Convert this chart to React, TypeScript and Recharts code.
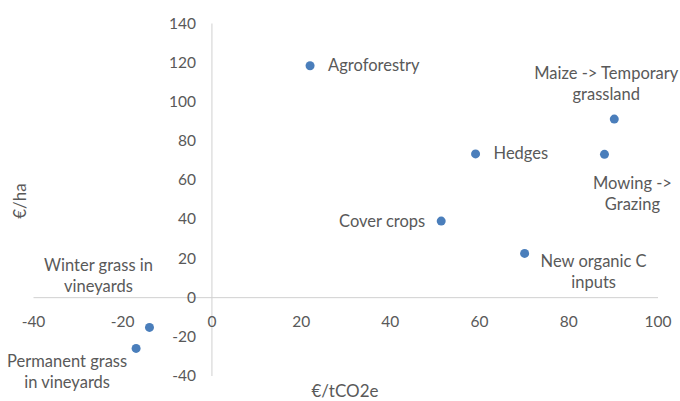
import { ScatterChart, Scatter, XAxis, YAxis, ReferenceLine, Label } from "recharts";

const practices = [
  "Agroforestry",
  "Maize -> Temporary grassland",
  "Mowing -> Grazing",
  "Hedges",
  "Cover crops",
  "New organic C inputs",
  "Winter grass in vineyards",
  "Permanent grass in vineyards",
];
const costPerTonneCO2e = [22, 90.2, 88, 59.1, 51.4, 70.1, -14, -17];
const costPerHectare = [118.4, 91.2, 73.2, 73.4, 39.1, 22.6, -15.2, -25.9];

const xTicks = [-40, -20, 0, 20, 40, 60, 80, 100];
const yTicks = [-40, -20, 0, 20, 40, 60, 80, 100, 120, 140];

const points = practices.map((name, i) => ({ name, x: costPerTonneCO2e[i], y: costPerHectare[i] }));

const W = 680;
const H = 401;
const M = { top: 23.5, right: 22, bottom: 24, left: 32.5 };
const FONT = "Lato, 'Open Sans', sans-serif";
const TEXT = "#595959";
const AXIS = "#d0d0d0";
const DOT = "#4a7ebb";

// where the zero lines fall, so tick labels can sit next to them
const plotLeft = M.left + 1;
const plotBottom = H - M.bottom - 1;
const zeroY = M.top + (140 / 180) * (plotBottom - M.top);
const zeroX = plotLeft + (40 / 140) * (W - M.right - plotLeft);

const labelLayout: Record<string, { lines: string[]; dx: number; dy: number; anchor: "start" | "middle" | "end" }> = {
  Agroforestry: { lines: ["Agroforestry"], dx: 18, dy: 0, anchor: "start" },
  "Maize -> Temporary grassland": { lines: ["Maize -> Temporary", "grassland"], dx: -8, dy: -46, anchor: "middle" },
  "Mowing -> Grazing": { lines: ["Mowing ->", "Grazing"], dx: 28, dy: 29, anchor: "middle" },
  Hedges: { lines: ["Hedges"], dx: 18, dy: 0, anchor: "start" },
  "Cover crops": { lines: ["Cover crops"], dx: -16, dy: 0, anchor: "end" },
  "New organic C inputs": { lines: ["New organic C", "inputs"], dx: 69, dy: 8, anchor: "middle" },
  "Winter grass in vineyards": { lines: ["Winter grass in", "vineyards"], dx: -51, dy: -62, anchor: "middle" },
  "Permanent grass in vineyards": { lines: ["Permanent grass", "in vineyards"], dx: -69, dy: 13, anchor: "middle" },
};

function PointWithLabel(props: any) {
  const { cx, cy, payload } = props;
  const l = labelLayout[payload.name];
  const tx = cx + l.dx;
  return (
    <g>
      <circle cx={cx} cy={cy} r={4.5} fill={DOT} />
      <text x={tx} y={cy + l.dy + 5.5} textAnchor={l.anchor} fill={TEXT} fontSize={16.5} fontFamily={FONT}>
        {l.lines.map((line, i) => (
          <tspan key={i} x={tx} dy={i === 0 ? 0 : 21.5}>
            {line}
          </tspan>
        ))}
      </text>
    </g>
  );
}

function XTick(props: any) {
  const { x, payload } = props;
  return (
    <text x={x} y={zeroY + 29} textAnchor="middle" fill={TEXT} fontSize={15.5} fontFamily={FONT}>
      {payload.value}
    </text>
  );
}

function YTick(props: any) {
  const { y, payload } = props;
  return (
    <text x={zeroX - 16} y={y + 5} textAnchor="end" fill={TEXT} fontSize={15.5} fontFamily={FONT}>
      {payload.value}
    </text>
  );
}

function XTitle() {
  return (
    <text x={345} y={397} textAnchor="middle" fill={TEXT} fontSize={17} fontFamily={FONT}>
      €/tCO2e
    </text>
  );
}

function YTitle() {
  return (
    <text x={26} y={201} textAnchor="middle" fill={TEXT} fontSize={17} fontFamily={FONT} transform="rotate(-90 26 201)">
      €/ha
    </text>
  );
}

export default function App() {
  return (
    <div style={{ position: "absolute", left: 0, top: 0, width: W, height: H, background: "#fff" }}>
      <ScatterChart width={W} height={H} margin={M}>
        <XAxis
          type="number"
          dataKey="x"
          domain={[-40, 100]}
          ticks={xTicks}
          height={1}
          axisLine={false}
          tickLine={false}
          tick={<XTick />}
          interval={0}
        >
          <Label content={<XTitle />} />
        </XAxis>
        <YAxis
          type="number"
          dataKey="y"
          domain={[-40, 140]}
          ticks={yTicks}
          width={1}
          axisLine={false}
          tickLine={false}
          tick={<YTick />}
          interval={0}
        >
          <Label content={<YTitle />} />
        </YAxis>
        <ReferenceLine x={0} stroke={AXIS} strokeWidth={1} />
        <ReferenceLine y={0} stroke={AXIS} strokeWidth={1} />
        <Scatter data={points} shape={<PointWithLabel />} isAnimationActive={false} />
      </ScatterChart>
    </div>
  );
}
